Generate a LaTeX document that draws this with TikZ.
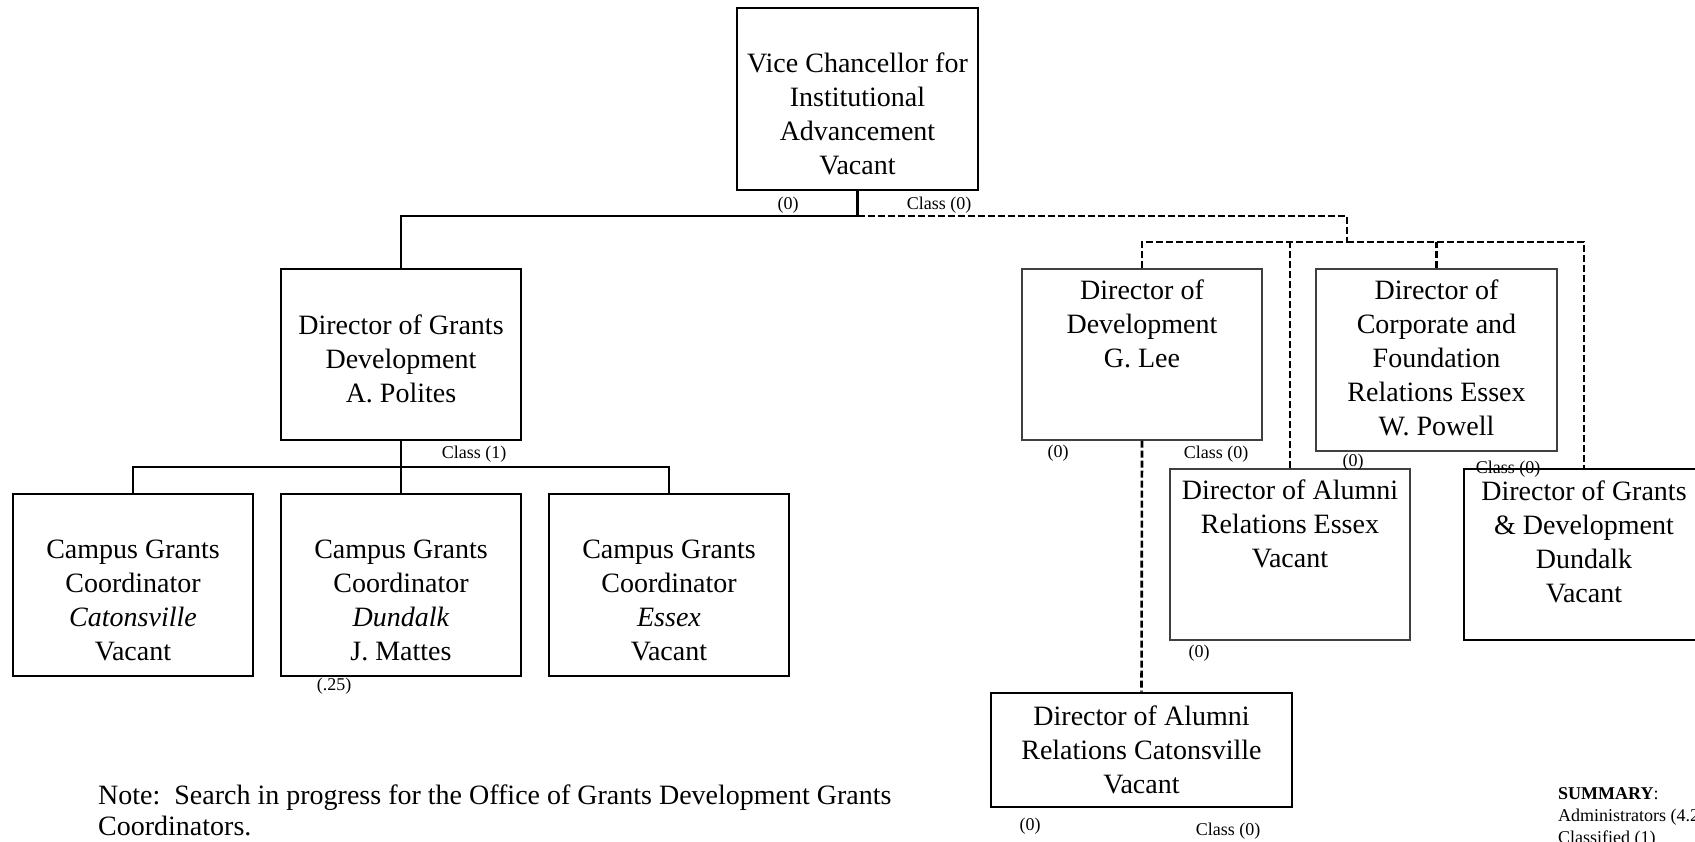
\documentclass[tikz,border=0pt]{standalone}
\usepackage{fontspec}
\setmainfont{Liberation Serif}
\begin{document}
\begin{tikzpicture}[x=1pt,y=-1pt,
  box/.style={draw=black, line width=2.6pt, rectangle, inner sep=0pt},
  thinbox/.style={draw=black!75, line width=1.3pt, rectangle, inner sep=0pt},
  txt/.style={align=center, inner sep=0pt, font=\fontsize{28}{34}\selectfont},
  lbl/.style={inner sep=0pt, font=\fontsize{18}{22}\selectfont},
  conn/.style={line width=2.6pt},
  dconn/.style={line width=2.6pt, dash pattern=on 7pt off 3pt},
]
\path[use as bounding box] (0,0) rectangle (1695,841);
\clip (0,0) rectangle (1695,841);
\fill[white] (0,0) rectangle (1695,841);

% boxes
\node[box, minimum width=241pt, minimum height=182pt] (vc) at (857.5,99) {};
\node[box, minimum width=240pt, minimum height=171pt] (gd) at (401,354.5) {};
\node[box, minimum width=240pt, minimum height=182pt] (c1) at (133,585) {};
\node[box, minimum width=240pt, minimum height=182pt] (c2) at (401,585) {};
\node[box, minimum width=240pt, minimum height=182pt] (c3) at (669,585) {};
\node[thinbox, minimum width=240pt, minimum height=171pt] (dd) at (1142,354.5) {};
\node[thinbox, minimum width=241pt, minimum height=182pt] (cf) at (1436.5,360) {};
\node[thinbox, minimum width=240pt, minimum height=171pt] (ae) at (1290,554.5) {};
\node[box, minimum width=240pt, minimum height=171pt] (gdd) at (1584,554.5) {};
\node[box, minimum width=301pt, minimum height=114pt] (ac) at (1141.5,750) {};

% texts
\node[txt] (vct) at (857.5,114) {Vice Chancellor for\\Institutional\\Advancement\\Vacant};
\node[txt] (gdt) at (401,358.5) {Director of Grants\\Development\\A. Polites};
\node[txt] (c1t) at (133,600) {Campus Grants\\Coordinator\\\textit{Catonsville}\\Vacant};
\node[txt] (c2t) at (401,600) {Campus Grants\\Coordinator\\\textit{Dundalk}\\J. Mattes};
\node[txt] (c3t) at (669,600) {Campus Grants\\Coordinator\\\textit{Essex}\\Vacant};
\node[txt] (ddt) at (1142,324) {Director of\\Development\\G. Lee};
\node[txt] (cft) at (1436.5,358) {Director of\\Corporate and\\Foundation\\Relations Essex\\W. Powell};
\node[txt] (aet) at (1290,524) {Director of Alumni\\Relations Essex\\Vacant};
\node[txt] (gddt) at (1584,541.5) {Director of Grants\\\& Development\\Dundalk\\Vacant};
\node[txt] (act) at (1141.5,750) {Director of Alumni\\Relations Catonsville\\Vacant};

% junctions
\coordinate (j1) at (857.5,216);
\coordinate (j2) at (1347,216);
\coordinate (j3) at (1347,242);
\coordinate (j4) at (401,467);

% connectors
\draw[conn] (vc.south) -- (j1) -| (gd.north);
\draw[dconn] (j1) -- (j2) -- (j3);
\draw[dconn] (dd.north) |- (j3);
\draw[dconn] (j3) -| (gdd.north);
\draw[dconn] (ae.north) -- (ae.north |- j3);
\draw[dconn] (cf.north) -- (cf.north |- j3);
\draw[dconn] (dd.south) -- (ac.north);
\draw[conn] (gd.south) -- (j4);
\draw[conn] (j4) -| (c1.north);
\draw[conn] (j4) -| (c3.north);
\draw[conn] (j4) -- (c2.north);

% small labels
\node[lbl] (l1) at (788,205) {(0)};
\node[lbl] (l2) at (939,205) {Class (0)};
\node[lbl] (l3) at (474,454) {Class (1)};
\node[lbl] (l4) at (334,686) {(.25)};
\node[lbl] (l5) at (1058,453) {(0)};
\node[lbl] (l6) at (1216,454) {Class (0)};
\node[lbl] (l7) at (1353,462) {(0)};
\node[lbl] (l8) at (1508,469) {Class (0)};
\node[lbl] (l9) at (1199,653) {(0)};
\node[lbl] (l10) at (1030,826) {(0)};
\node[lbl] (l11) at (1228,831) {Class (0)};

% note
\node[anchor=west, align=left, inner sep=0pt, font=\fontsize{28}{31}\selectfont] (note) at (98,810)
  {Note:\ \ Search in progress for the Office of Grants Development Grants\\Coordinators.};

% summary
\node[anchor=west, align=left, inner sep=0pt, font=\fontsize{18}{22}\selectfont] (sum) at (1558,817)
  {\textbf{SUMMARY}:\\Administrators (4.25)\\Classified (1)};
\end{tikzpicture}
\end{document}
